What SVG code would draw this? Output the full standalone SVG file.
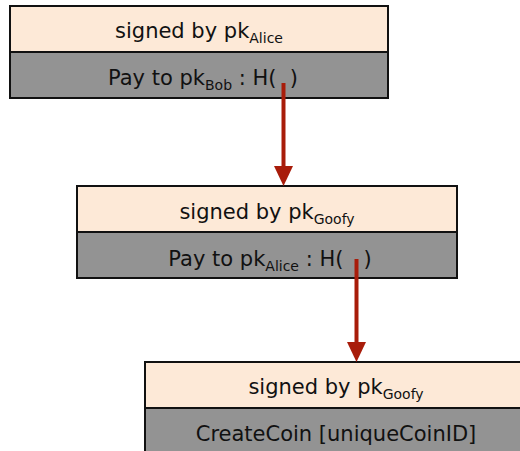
<svg xmlns="http://www.w3.org/2000/svg" width="520" height="451" viewBox="0 0 520 451">
  <style>
    .sig { fill: #FDE9D7; stroke: #111; stroke-width: 2; }
    .body { fill: #939393; stroke: #111; stroke-width: 2; }
    .lbl { font-family: "DejaVu Sans", "Liberation Sans", sans-serif; font-size: 21px; fill: #111; text-anchor: middle; }
    .sub { font-size: 14px; }
    .link { stroke: #A81C0A; stroke-width: 4; fill: none; }
  </style>
  <defs>
    <marker id="head" markerUnits="userSpaceOnUse" markerWidth="20" markerHeight="20" refX="10" refY="10" orient="auto" viewBox="0 0 20 20">
      <path d="M0,0.5 L20,10 L0,19.5 z" fill="#A81C0A"/>
    </marker>
  </defs>

  <!-- transaction signed by Alice, paying Bob -->
  <g id="tx-alice">
    <rect class="sig" x="10" y="6" width="378" height="46"/>
    <rect class="body" x="10" y="52" width="378" height="46"/>
    <text class="lbl" x="199" y="38">signed by pk<tspan class="sub" dy="5">Alice</tspan></text>
    <text class="lbl" x="203" y="85" xml:space="preserve">Pay to pk<tspan class="sub" dy="5">Bob</tspan><tspan dy="-5"> : H(  )</tspan></text>
  </g>

  <!-- transaction signed by Goofy, paying Alice -->
  <g id="tx-goofy">
    <rect class="sig" x="77" y="186" width="380" height="46"/>
    <rect class="body" x="77" y="232" width="380" height="46"/>
    <text class="lbl" x="267" y="219">signed by pk<tspan class="sub" dy="5">Goofy</tspan></text>
    <text class="lbl" x="270" y="266" xml:space="preserve">Pay to pk<tspan class="sub" dy="5">Alice</tspan><tspan dy="-5"> : H(   )</tspan></text>
  </g>

  <!-- coin creation by Goofy -->
  <g id="tx-create">
    <rect class="sig" x="145" y="362" width="380" height="46"/>
    <rect class="body" x="145" y="408" width="380" height="46"/>
    <text class="lbl" x="336" y="394">signed by pk<tspan class="sub" dy="5">Goofy</tspan></text>
    <text class="lbl" x="336" y="441">CreateCoin [uniqueCoinID]</text>
  </g>

  <!-- hash pointers -->
  <g id="links">
    <line class="link" x1="283.5" y1="83" x2="283.5" y2="176" marker-end="url(#head)"/>
    <line class="link" x1="356.5" y1="259" x2="356.5" y2="352" marker-end="url(#head)"/>
  </g>
</svg>
